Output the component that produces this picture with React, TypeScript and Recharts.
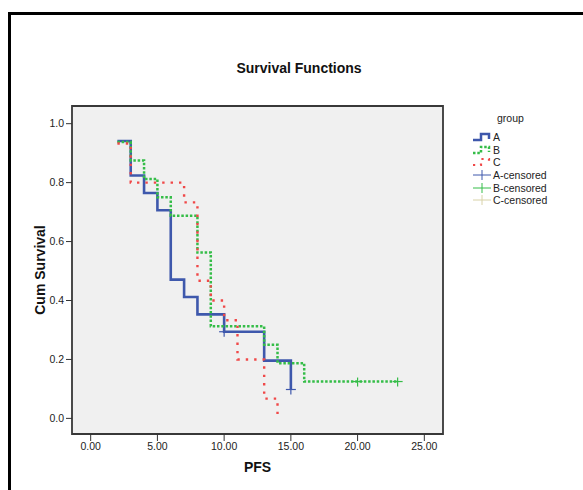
import React from 'react'
import { ComposedChart, Line, Scatter, XAxis, YAxis, ReferenceArea, Legend } from 'recharts'

// Kaplan-Meier steps (time, cum survival)
const timesA = [2, 3, 4, 5, 6, 7, 8, 10, 13, 15]
const survA = [0.941, 0.824, 0.765, 0.706, 0.471, 0.412, 0.353, 0.294, 0.196, 0.098]
const timesB = [2, 3, 4, 5, 6, 8, 9, 13, 14, 16, 23]
const survB = [0.9375, 0.875, 0.8125, 0.75, 0.6875, 0.5625, 0.3125, 0.25, 0.1875, 0.125, 0.125]
const timesC = [2, 3, 7, 8, 9, 10, 11, 13, 14]
const survC = [0.933, 0.8, 0.733, 0.467, 0.4, 0.333, 0.2, 0.067, 0]

const censorA = [{ t: 10, s: 0.294 }, { t: 15, s: 0.098 }]
const censorB = [{ t: 20, s: 0.125 }, { t: 23, s: 0.125 }]

const xTicks = [0, 5, 10, 15, 20, 25]
const yTicks = [0, 0.2, 0.4, 0.6, 0.8, 1.0]

const BLUE = '#3e58ac'
const GREEN = '#35bd48'
const RED = '#f04848'
const BEIGE = '#d8d2a8'

const toRows = (ts: number[], ss: number[]) => ts.map((t, i) => ({ t, s: ss[i] }))

const font = '"Liberation Sans", Arial, sans-serif'

const Cross = (color: string) => (props: any) => {
  const { cx, cy } = props
  return (
    <g stroke={color} strokeWidth={1.2}>
      <line x1={cx - 5} x2={cx + 5} y1={cy} y2={cy} />
      <line x1={cx} x2={cx} y1={cy - 4} y2={cy + 5} />
    </g>
  )
}

const stepPath = 'M1 9 H9 V3 H17 V8'

const renderLegend = () => {
  const rows = [
    { label: 'A', icon: <path d={stepPath} fill="none" stroke={BLUE} strokeWidth={2.5} /> },
    { label: 'B', icon: <path d={stepPath} fill="none" stroke={GREEN} strokeWidth={2.5} strokeDasharray="2.5 1.8" /> },
    { label: 'C', icon: <path d={stepPath} fill="none" stroke={RED} strokeWidth={2.2} strokeDasharray="2.2 5" /> },
    { label: 'A-censored', icon: <g stroke={BLUE} strokeWidth={1}><line x1={1} x2={19} y1={6} y2={6} /><line x1={10} x2={10} y1={1} y2={11} /></g> },
    { label: 'B-censored', icon: <g stroke={GREEN} strokeWidth={1}><line x1={1} x2={19} y1={6} y2={6} /><line x1={10} x2={10} y1={1} y2={11} /></g> },
    { label: 'C-censored', icon: <g stroke={BEIGE} strokeWidth={1}><line x1={1} x2={19} y1={6} y2={6} /><line x1={10} x2={10} y1={1} y2={11} /></g> },
  ]
  return (
    <div style={{ fontFamily: font, fontSize: 10.5, color: '#222' }}>
      <div style={{ marginLeft: 27, height: 19 }}>group</div>
      {rows.map(r => (
        <div key={r.label} style={{ display: 'flex', alignItems: 'center', height: 12.6 }}>
          <svg width={21} height={12} style={{ marginLeft: 2 }}>{r.icon}</svg>
          <span>{r.label}</span>
        </div>
      ))}
    </div>
  )
}

export default function App() {
  return (
    <div style={{ position: 'absolute', left: 0, top: 0, width: 583, height: 490, overflow: 'hidden', background: '#fff' }}>
      <div style={{ position: 'absolute', left: 8, top: 12, width: 700, height: 600, borderLeft: '3px solid #000', borderTop: '3px solid #000' }} />
      <div style={{ position: 'absolute', left: 0, top: 0 }}>
        <ComposedChart width={583} height={490} margin={{ top: 106, right: 140, bottom: 26, left: 12 }}>
          <XAxis
            dataKey="t"
            type="number"
            domain={[-1.4, 26.4]}
            ticks={xTicks}
            allowDataOverflow
            tickFormatter={(v: number) => v.toFixed(2)}
            axisLine={false}
            tickSize={7}
            tickLine={{ stroke: '#333' }}
            tick={{ fontSize: 10.5, fill: '#222', fontFamily: font }}
            height={30}
          />
          <YAxis
            dataKey="s"
            type="number"
            domain={[-0.053, 1.06]}
            ticks={yTicks}
            allowDataOverflow
            tickFormatter={(v: number) => v.toFixed(1)}
            axisLine={false}
            tickSize={6}
            tickLine={{ stroke: '#333' }}
            tick={{ fontSize: 10.5, fill: '#222', fontFamily: font }}
            width={60}
          />
          <ReferenceArea x1={-1.4} x2={26.4} y1={-0.053} y2={1.06} fill="#f0f0f0" fillOpacity={1} stroke="#383838" strokeWidth={1.8} />
          <Line data={toRows(timesA, survA)} dataKey="s" type="stepAfter" stroke={BLUE} strokeWidth={2.6} dot={false} isAnimationActive={false} />
          <Line data={toRows(timesB, survB)} dataKey="s" type="stepAfter" stroke={GREEN} strokeWidth={2.5} strokeDasharray="2.5 1.8" dot={false} isAnimationActive={false} />
          <Line data={toRows(timesC, survC)} dataKey="s" type="stepAfter" stroke={RED} strokeWidth={2.4} strokeDasharray="2.4 6" dot={false} isAnimationActive={false} />
          <Scatter data={censorA} dataKey="s" shape={Cross(BLUE)} isAnimationActive={false} />
          <Scatter data={censorB} dataKey="s" shape={Cross(GREEN)} isAnimationActive={false} />
          <Legend
            content={renderLegend}
            layout="vertical"
            align="center"
            verticalAlign="middle"
            wrapperStyle={{ position: 'absolute', left: 470, top: 112, width: 110 }}
          />
        </ComposedChart>
      </div>
      <div style={{ position: 'absolute', left: 0, width: 598, top: 60, textAlign: 'center', fontFamily: font, fontWeight: 'bold', fontSize: 14, color: '#111' }}>
        Survival Functions
      </div>
      <div style={{ position: 'absolute', left: 72, width: 371, top: 459, textAlign: 'center', fontFamily: font, fontWeight: 'bold', fontSize: 14, color: '#111' }}>
        PFS
      </div>
      <div style={{ position: 'absolute', left: 40, top: 270, transform: 'translate(-50%, -50%) rotate(-90deg)', whiteSpace: 'nowrap', fontFamily: font, fontWeight: 'bold', fontSize: 14, color: '#111' }}>
        Cum Survival
      </div>
    </div>
  )
}
